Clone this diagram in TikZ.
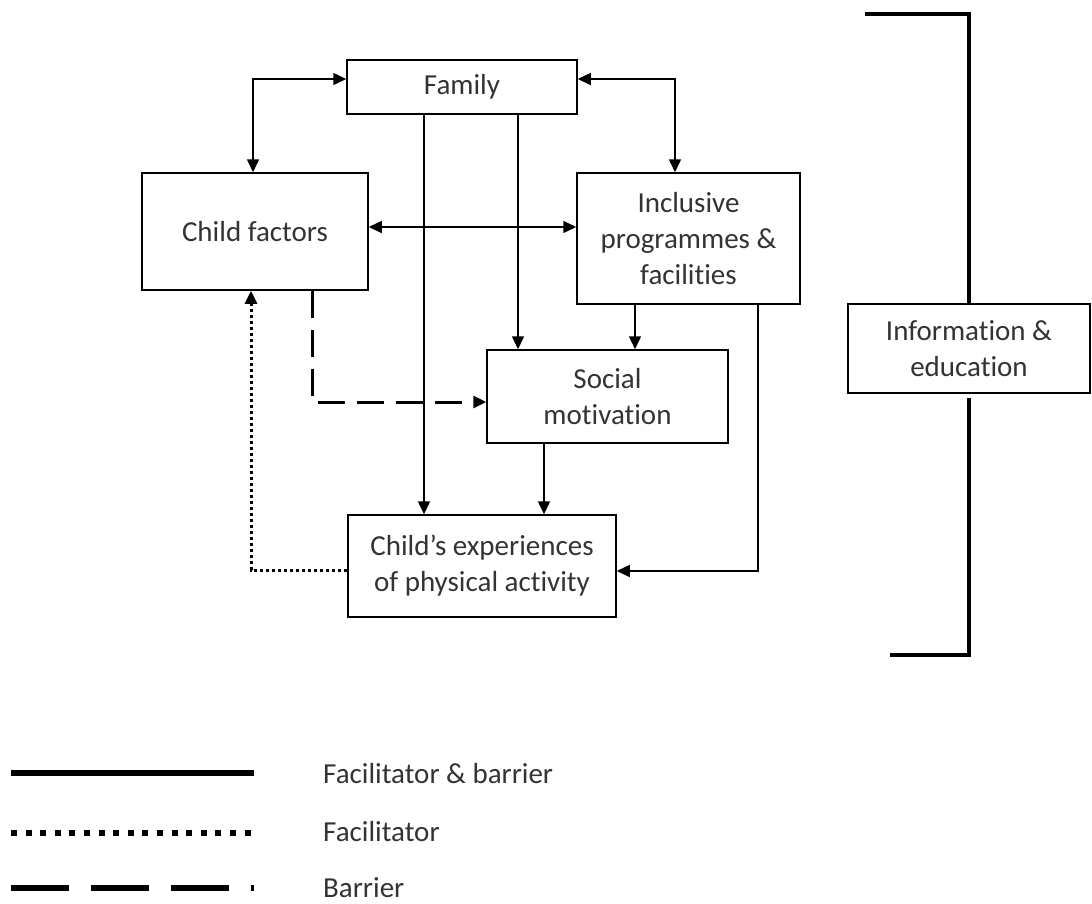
\documentclass[tikz,border=0pt]{standalone}
\usepackage{fontspec}
\setmainfont{Carlito}[Ligatures=NoCommon]
\usetikzlibrary{arrows.meta}
\begin{document}
\begin{tikzpicture}[x=1pt,y=-1pt,
  box/.style={draw, line width=1.5pt, align=center, inner sep=0pt,
    font=\fontsize{29}{36}\selectfont, text=black!80},
  conn/.style={line width=1.5pt},
  tip/.style={-{Triangle[length=13pt,width=12pt]}},
  bitip/.style={{Triangle[length=13pt,width=12pt]}-{Triangle[length=13pt,width=12pt]}},
  barline/.style={line width=4pt},
  legtext/.style={anchor=base west, inner sep=0pt, font=\fontsize{29}{36}\selectfont, text=black!80}]
\useasboundingbox (0,0) rectangle (1092,903);

% boxes
\node[box, minimum width=230pt, minimum height=54pt] (fam) at (462,87) {Family};
\node[box, minimum width=226pt, minimum height=117pt] (child) at (255,231.5) {Child factors};
\node[box, minimum width=223pt, minimum height=131pt] (incl) at (688.5,238.5) {Inclusive\\programmes \&\\facilities};
\node[box, minimum width=241pt, minimum height=93pt] (soc) at (607.5,396.5) {Social\\motivation};
\node[box, minimum width=268pt, minimum height=102pt] (exp) at (482,566) {Child’s experiences\\of physical activity};
\node[box, minimum width=242pt, minimum height=89pt] (info) at (969,348.5) {Information \&\\education};

% x positions of vertical connectors
\coordinate (xa) at (424,0);
\coordinate (xb) at (518,0);
\coordinate (xc) at (635,0);
\coordinate (xd) at (544,0);
\coordinate (xe) at (758,0);
\coordinate (xf) at (251,0);
\coordinate (xg) at (312,0);

% connectors
\draw[conn, bitip] ([yshift=8pt]fam.west) -| ([xshift=-2pt]child.north);
\draw[conn, bitip] ([yshift=8pt]fam.east) -| ([xshift=-13.5pt]incl.north);
\draw[conn, bitip] ([yshift=4.5pt]child.east) coordinate (ce) -- (ce -| incl.west);
\draw[conn, tip] (fam.south -| xa) -- (exp.north -| xa);
\draw[conn, tip] (fam.south -| xb) -- (soc.north -| xb);
\draw[conn, tip] (incl.south -| xc) -- (soc.north -| xc);
\draw[conn, tip] (soc.south -| xd) -- (exp.north -| xd);
\draw[conn, tip] (incl.south -| xe) |- ([yshift=-5pt]exp.east);
\draw[line width=3pt, dash pattern=on 3pt off 3pt, -{Triangle[length=13pt,width=12pt]}]
  ([yshift=-4pt]exp.west) -| (child.south -| xf);
\draw[line width=3pt, dash pattern=on 27pt off 12pt, -{Triangle[length=13pt,width=12pt]}]
  (child.south -| xg) |- ([yshift=-5.5pt]soc.west);

% bracket
\coordinate (btop) at (865,14);
\coordinate (bbot) at (890,655);
\draw[barline, line join=miter] (btop) -| (info.north);
\draw[barline, line join=miter] ([yshift=-4pt]info.south) |- (bbot);

% legend
\coordinate (l1a) at (11,773); \coordinate (l1b) at (254,773);
\coordinate (l2a) at (11,833); \coordinate (l2b) at (254,833);
\coordinate (l3a) at (11,888); \coordinate (l3b) at (254,888);
\draw[line width=6pt] (l1a) -- (l1b);
\draw[line width=6pt, dash pattern=on 6pt off 8.6pt] (l2a) -- (l2b);
\draw[line width=6pt, dash pattern=on 58pt off 22pt] (l3a) -- (l3b);
\node[legtext] (t1) at (323,783) {Facilitator \& barrier};
\node[legtext] (t2) at (323,841) {Facilitator};
\node[legtext] (t3) at (323,897) {Barrier};
\end{tikzpicture}
\end{document}
